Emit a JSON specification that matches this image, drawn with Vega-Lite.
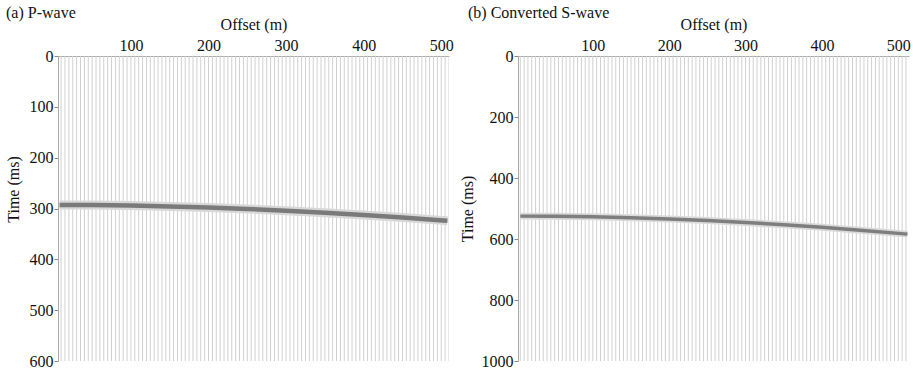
{
  "$schema": "https://vega.github.io/schema/vega-lite/v6.json",
  "padding": {"left": 5, "top": 5, "right": 0, "bottom": 0},
  "background": "white",
  "spacing": 69,
  "bounds": "flush",
  "config": {
    "view": {"stroke": null},
    "font": "Liberation Serif",
    "axis": {
      "labelFont": "Liberation Serif",
      "titleFont": "Liberation Serif",
      "labelFontSize": 16,
      "titleFontSize": 16,
      "titleFontWeight": "normal",
      "labelColor": "#111111",
      "titleColor": "#111111",
      "domainColor": "#aaaaaa",
      "tickColor": "#888888",
      "grid": false
    },
    "title": {"font": "Liberation Serif", "fontSize": 16, "fontWeight": "normal", "color": "#111111"}
  },
  "datasets": {
    "traces": [
      {"offset": 5}, {"offset": 10}, {"offset": 15}, {"offset": 20}, {"offset": 25}, {"offset": 30}, {"offset": 35}, {"offset": 40}, {"offset": 45}, {"offset": 50},
      {"offset": 55}, {"offset": 60}, {"offset": 65}, {"offset": 70}, {"offset": 75}, {"offset": 80}, {"offset": 85}, {"offset": 90}, {"offset": 95}, {"offset": 100},
      {"offset": 105}, {"offset": 110}, {"offset": 115}, {"offset": 120}, {"offset": 125}, {"offset": 130}, {"offset": 135}, {"offset": 140}, {"offset": 145}, {"offset": 150},
      {"offset": 155}, {"offset": 160}, {"offset": 165}, {"offset": 170}, {"offset": 175}, {"offset": 180}, {"offset": 185}, {"offset": 190}, {"offset": 195}, {"offset": 200},
      {"offset": 205}, {"offset": 210}, {"offset": 215}, {"offset": 220}, {"offset": 225}, {"offset": 230}, {"offset": 235}, {"offset": 240}, {"offset": 245}, {"offset": 250},
      {"offset": 255}, {"offset": 260}, {"offset": 265}, {"offset": 270}, {"offset": 275}, {"offset": 280}, {"offset": 285}, {"offset": 290}, {"offset": 295}, {"offset": 300},
      {"offset": 305}, {"offset": 310}, {"offset": 315}, {"offset": 320}, {"offset": 325}, {"offset": 330}, {"offset": 335}, {"offset": 340}, {"offset": 345}, {"offset": 350},
      {"offset": 355}, {"offset": 360}, {"offset": 365}, {"offset": 370}, {"offset": 375}, {"offset": 380}, {"offset": 385}, {"offset": 390}, {"offset": 395}, {"offset": 400},
      {"offset": 405}, {"offset": 410}, {"offset": 415}, {"offset": 420}, {"offset": 425}, {"offset": 430}, {"offset": 435}, {"offset": 440}, {"offset": 445}, {"offset": 450},
      {"offset": 455}, {"offset": 460}, {"offset": 465}, {"offset": 470}, {"offset": 475}, {"offset": 480}, {"offset": 485}, {"offset": 490}, {"offset": 495}, {"offset": 500},
      {"offset": 505}, {"offset": 510}
    ],
    "pwave": [
      {"offset": 8, "time": 293.0}, {"offset": 50, "time": 293.3}, {"offset": 100, "time": 294.3}, {"offset": 150, "time": 295.9},
      {"offset": 200, "time": 298.1}, {"offset": 250, "time": 300.8}, {"offset": 300, "time": 304.2}, {"offset": 350, "time": 308.2},
      {"offset": 400, "time": 312.7}, {"offset": 450, "time": 317.7}, {"offset": 508, "time": 324.0}
    ],
    "swave": [
      {"offset": 5, "time": 525.0}, {"offset": 50, "time": 525.6}, {"offset": 100, "time": 527.4}, {"offset": 150, "time": 530.3},
      {"offset": 200, "time": 534.4}, {"offset": 250, "time": 539.7}, {"offset": 300, "time": 546.0}, {"offset": 350, "time": 553.4},
      {"offset": 400, "time": 561.8}, {"offset": 450, "time": 571.2}, {"offset": 512, "time": 584.0}
    ]
  },
  "hconcat": [
    {
      "width": 391,
      "height": 305,
      "title": {"text": "(a) P-wave", "anchor": "start", "frame": "group", "dx": -52, "offset": -5},
      "layer": [
        {
          "data": {"name": "traces"},
          "mark": {"type": "rule", "color": "#d0d0d0", "strokeWidth": 1, "clip": true},
          "encoding": {
            "x": {"field": "offset", "type": "quantitative", "scale": {"domain": [6, 510], "nice": false, "zero": false},
                  "axis": {"orient": "top", "title": "Offset (m)", "values": [100, 200, 300, 400, 500], "ticks": false, "labelPadding": 3, "titlePadding": 5}},
            "y": {"datum": 0, "type": "quantitative", "scale": {"domain": [0, 600], "reverse": true, "nice": false},
                  "axis": {"title": "Time (ms)", "values": [0, 100, 200, 300, 400, 500, 600], "tickSize": 4, "labelPadding": 1, "titlePadding": 8, "titleY": 133}},
            "y2": {"datum": 600}
          }
        },
        {
          "data": {"name": "pwave"},
          "mark": {"type": "line", "color": "#d8d8d8", "strokeWidth": 9, "interpolate": "monotone", "clip": true},
          "encoding": {
            "x": {"field": "offset", "type": "quantitative"},
            "y": {"field": "time", "type": "quantitative"}
          }
        },
        {
          "data": {"name": "pwave"},
          "mark": {"type": "line", "color": "#7a7a7a", "strokeWidth": 4.5, "interpolate": "monotone", "clip": true},
          "encoding": {
            "x": {"field": "offset", "type": "quantitative"},
            "y": {"field": "time", "type": "quantitative"}
          }
        }
      ]
    },
    {
      "width": 391,
      "height": 305,
      "title": {"text": "(b) Converted S-wave", "anchor": "start", "frame": "group", "dx": -50, "offset": -5},
      "layer": [
        {
          "data": {"name": "traces"},
          "mark": {"type": "rule", "color": "#d0d0d0", "strokeWidth": 1, "clip": true},
          "encoding": {
            "x": {"field": "offset", "type": "quantitative", "scale": {"domain": [2, 514], "nice": false, "zero": false},
                  "axis": {"orient": "top", "title": "Offset (m)", "values": [100, 200, 300, 400, 500], "ticks": false, "labelPadding": 3, "titlePadding": 5}},
            "y": {"datum": 0, "type": "quantitative", "scale": {"domain": [0, 1000], "reverse": true, "nice": false},
                  "axis": {"title": "Time (ms)", "format": "d", "values": [0, 100, 200, 300, 400, 500, 600, 700, 800, 900, 1000],
                           "labelExpr": "datum.value % 200 === 0 ? datum.label : ''", "tickSize": 4, "labelPadding": 1, "titlePadding": 6}},
            "y2": {"datum": 1000}
          }
        },
        {
          "data": {"name": "swave"},
          "mark": {"type": "line", "color": "#dadada", "strokeWidth": 7, "interpolate": "monotone", "clip": true},
          "encoding": {
            "x": {"field": "offset", "type": "quantitative"},
            "y": {"field": "time", "type": "quantitative"}
          }
        },
        {
          "data": {"name": "swave"},
          "mark": {"type": "line", "color": "#7e7e7e", "strokeWidth": 3.5, "interpolate": "monotone", "clip": true},
          "encoding": {
            "x": {"field": "offset", "type": "quantitative"},
            "y": {"field": "time", "type": "quantitative"}
          }
        }
      ]
    }
  ]
}
